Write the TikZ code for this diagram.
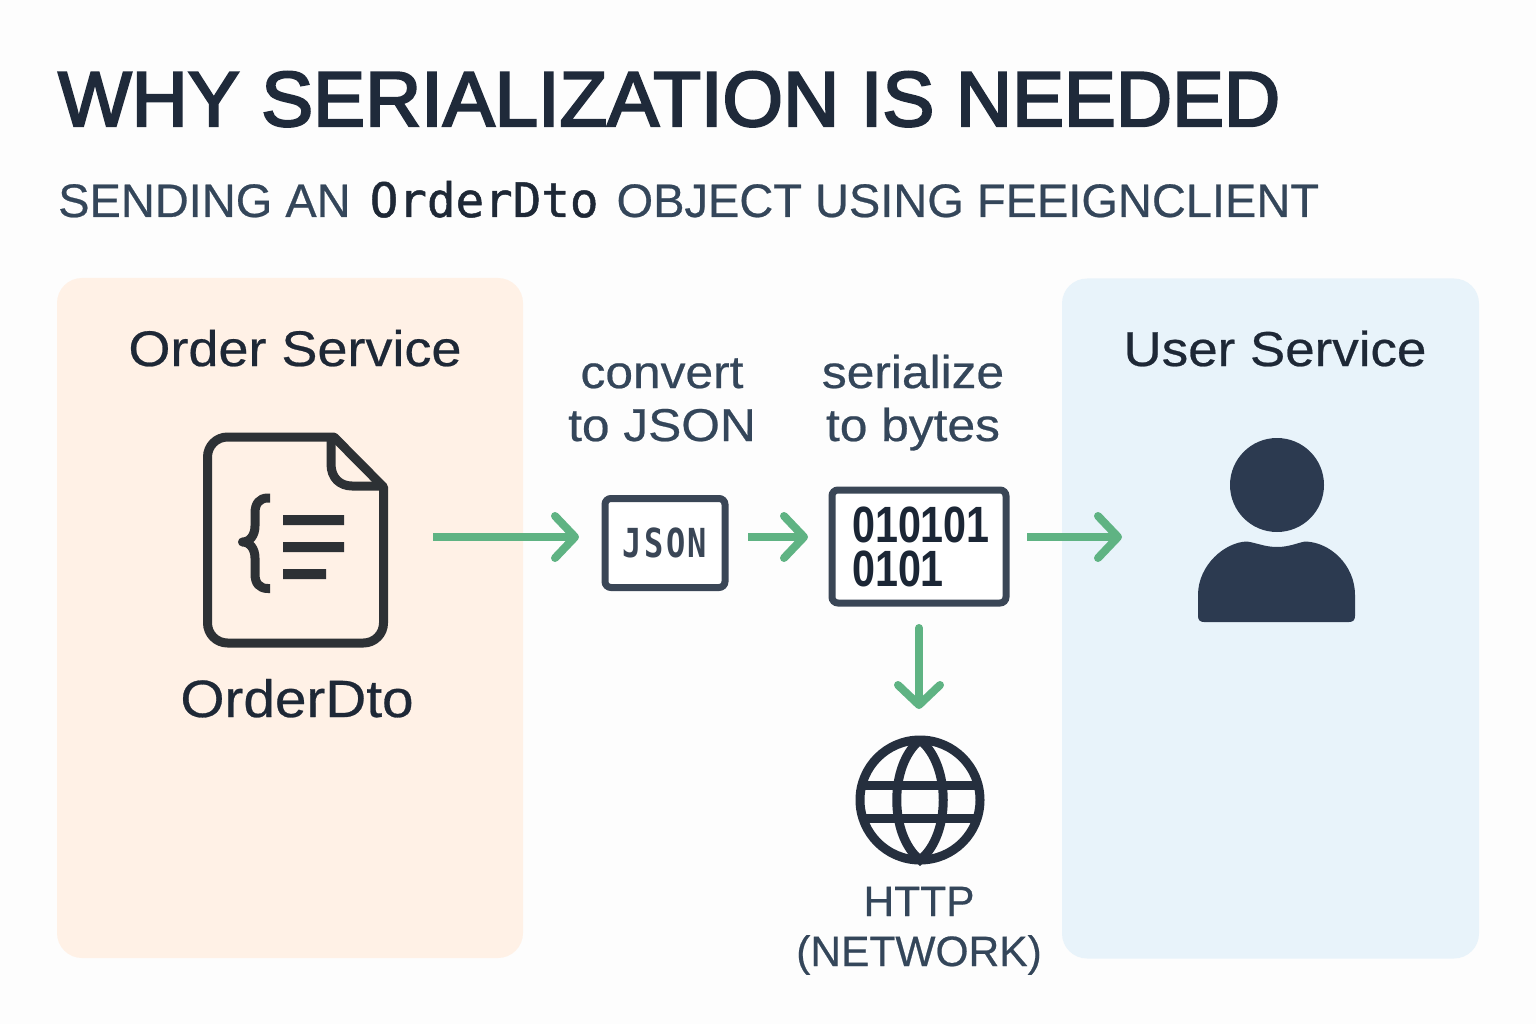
\documentclass[tikz,border=0pt]{standalone}
\usepackage{fontspec}
\usepackage{tikz}
\usetikzlibrary{arrows.meta}
\setmainfont[FakeStretch=1.08,FakeBold=0.5]{Liberation Sans}
\newfontfamily\capsfont[FakeBold=0.5]{Liberation Sans}
\newfontfamily\titlefont[FakeBold=3]{Liberation Sans}
\newfontfamily\codefont[FakeBold=1]{DejaVu Sans Mono}
\newfontfamily\jsonfont[FakeStretch=0.8,LetterSpace=6]{DejaVu Sans Mono Bold}
\newfontfamily\bitfont[FakeStretch=0.81]{Liberation Sans Bold}
\definecolor{pagebg}{HTML}{FDFDFD}
\definecolor{orderbg}{HTML}{FFF1E6}
\definecolor{userbg}{HTML}{E8F3FA}
\definecolor{titleink}{HTML}{1F2A3A}
\definecolor{subink}{HTML}{34465A}
\definecolor{headink}{HTML}{1E2836}
\definecolor{docink}{HTML}{2D3135}
\definecolor{boxink}{HTML}{3A4656}
\definecolor{bitink}{HTML}{1B2635}
\definecolor{globeink}{HTML}{252F3E}
\definecolor{userink}{HTML}{2C3A50}
\definecolor{flowgreen}{HTML}{5FB383}
\tikzset{
  panel/.style={rounded corners=25pt, minimum width=#1, minimum height=680pt, inner sep=0pt, outer sep=0pt},
  headlabel/.style={anchor=base, text=headink, inner sep=0pt, font=\fontsize{50}{50}\selectfont},
  steplabel/.style={anchor=base, align=center, text=subink, inner sep=0pt, font=\fontsize{46}{53}\selectfont},
  databox/.style={draw=boxink, line width=7pt, fill=white, rounded corners=6pt, inner sep=0pt, outer sep=0pt},
  flowarrow/.style={draw=flowgreen, line width=8pt, -{Straight Barb[length=20pt, width=42pt, line width=8pt, round]}},
  docline/.style={draw=docink, line width=9pt, line join=round}
}
\begin{document}
\begin{tikzpicture}[x=1pt, y=-1pt]
  \fill[pagebg] (0,0) rectangle (1536,1024);
  \useasboundingbox (0,0) rectangle (1536,1024);
  \node[panel=466pt, fill=orderbg] (OrderPanel) at (290,618) {};
  \node[panel=417pt, fill=userbg] (UserPanel) at (1270.5,618.5) {};
  \node[anchor=base west, inner sep=0pt, text=titleink, font=\fontsize{77.8}{78}\titlefont] (Title) at (58,126) {WHY SERIALIZATION IS NEEDED};
  \node[anchor=base west, inner sep=0pt, text=subink, font=\fontsize{47}{47}\capsfont] (Sub) at (58,217) {SENDING AN\hspace{6pt} {\color{headink}\codefont\fontsize{47.5}{47}\selectfont OrderDto}\hspace{5pt} OBJECT USING FEEIGNCLIENT};
  \node[headlabel] (OrderHead) at (295,366) {Order Service};
  \node[headlabel, font=\fontsize{49}{50}\selectfont] (UserHead) at (1275,366) {User Service};
  \node[headlabel, font=\fontsize{52.5}{50}\selectfont] (DocName) at (297,717) {OrderDto};
  \node[steplabel] (Convert) at (662,441) {convert\\to JSON};
  \node[steplabel] (Serialize) at (913,441) {serialize\\to bytes};
  \node[steplabel, font=\fontsize{42.5}{50}\capsfont] (Http) at (919,966) {HTTP\\(NETWORK)};
  \node[minimum width=176pt, minimum height=206pt, inner sep=0pt, outer sep=0pt] (Doc) at (295.5,537) {};
  \draw[docline] (207.5,457) arc (180:270:20) -- (334,437) -- (383.5,487) -- (383.5,623) arc (0:90:20) -- (227.5,643) arc (90:180:20) -- cycle;
  \draw[docline] (331,437) -- (331,464) .. controls (331,478) and (340,486) .. (352,486) -- (383.5,486);
  \draw[docline] (270,498) -- (268,498) .. controls (259,498) and (255,504) .. (255,513) -- (255,526) .. controls (255,535) and (250,542) .. (242.5,542) .. controls (250,542) and (255,549) .. (255,558) -- (255,574) .. controls (255,583) and (259,588.5) .. (268,588.5) -- (270,588.5);
  \fill[docink] (283,515) rectangle (344,525) (283,542) rectangle (344,552) (283,569) rectangle (326,579);
  \node[databox, minimum width=120pt, minimum height=89pt, text=boxink, font=\fontsize{40}{40}\jsonfont] (Json) at (665,543) {JSON};
  \node[databox, minimum width=174pt, minimum height=113pt, align=left, text=bitink, font=\fontsize{51}{44}\bitfont] (Bits) at (919,546.5) {\hspace*{4pt}010101\\\hspace*{4pt}0101\phantom{00}};
  \node[circle, draw=globeink, line width=9pt, minimum size=120pt, inner sep=0pt, outer sep=0pt] (Globe) at (920,800) {};
  \draw[globeink, line width=9pt] (Globe.north) .. controls (889,765) and (889,835) .. (Globe.south) .. controls (951,835) and (951,765) .. (Globe.north);
  \draw[globeink, line width=9pt] (861,785) -- (979,785) (861,818) -- (979,818);
  \node[circle, fill=userink, minimum size=94pt, inner sep=0pt] (Head) at (1277,485) {};
  \node[minimum width=158pt, minimum height=10pt, inner sep=0pt, outer sep=0pt] (User) at (1276,537) {};
  \fill[userink] (1198,595) .. controls (1198,565) and (1225,542) .. (1247,541.5) .. controls (1257,543) and (1265,547) .. (1277,547) .. controls (1289,547) and (1297,543) .. (1305,541.5) .. controls (1330,542) and (1355,565) .. (1355,595) -- (1355,616) .. controls (1355,620) and (1353,622) .. (1349,622) -- (1204,622) .. controls (1200,622) and (1198,620) .. (1198,616) -- cycle;
  \path ([shift={(49.5,0)}]Doc.east) edge[flowarrow] ([shift={(-26,-6)}]Json.west);
  \path ([shift={(23,-6)}]Json.east) edge[flowarrow] ([shift={(-24,-9.5)}]Bits.west);
  \path ([shift={(21,-9.5)}]Bits.east) edge[flowarrow] ([xshift=-75pt]User.west);
  \path ([shift={(0,25)}]Bits.south) edge[flowarrow, line cap=round] ([shift={(-1,-31)}]Globe.north);
\end{tikzpicture}
\end{document}
